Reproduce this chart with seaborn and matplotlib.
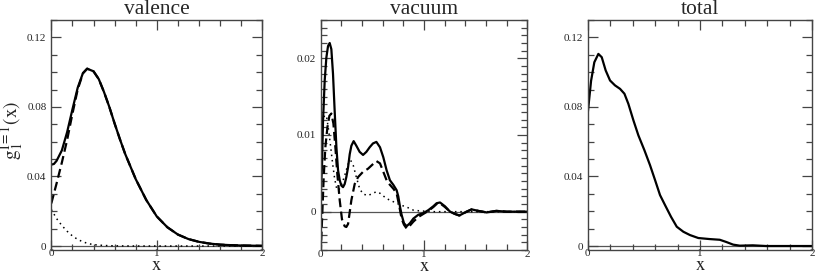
import matplotlib
matplotlib.use("Agg")
import matplotlib.pyplot as plt
from matplotlib.ticker import MultipleLocator, FixedLocator, FuncFormatter
import seaborn as sns
import pandas as pd

# ---------------- data ----------------
titles = ["valence", "vacuum", "total"]

val_solid_x = [0, 0.025, 0.05, 0.1, 0.15, 0.2, 0.25, 0.3, 0.34, 0.4, 0.45, 0.5, 0.55, 0.6, 0.65,
               0.7, 0.8, 0.9, 1.0, 1.1, 1.2, 1.3, 1.4, 1.5, 1.6, 1.7, 1.8, 1.9, 2.0]
val_solid_y = [0.0468, 0.0472, 0.0490, 0.0550, 0.0655, 0.0785, 0.0910, 0.0995, 0.1020, 0.1005,
               0.0960, 0.0885, 0.0800, 0.0705, 0.0615, 0.0530, 0.0385, 0.0265, 0.0170, 0.0108,
               0.0066, 0.0040, 0.0024, 0.0014, 0.0008, 0.0005, 0.0003, 0.0002, 0.0001]
val_dash_x = [0, 0.05, 0.1, 0.15, 0.2, 0.25, 0.3, 0.34, 0.4, 0.45, 0.5, 0.55, 0.6, 0.65,
              0.7, 0.8, 0.9, 1.0, 1.1, 1.2, 1.3, 1.4, 1.5, 1.6, 1.7, 1.8, 1.9, 2.0]
val_dash_y = [0.0245, 0.0360, 0.0480, 0.0610, 0.0760, 0.0900, 0.0993, 0.1020, 0.1005,
              0.0960, 0.0885, 0.0800, 0.0705, 0.0615, 0.0530, 0.0385, 0.0265, 0.0170, 0.0108,
              0.0066, 0.0040, 0.0024, 0.0014, 0.0008, 0.0005, 0.0003, 0.0002, 0.0001]
val_dot_x = [0, 0.05, 0.1, 0.15, 0.2, 0.25, 0.3, 0.35, 0.4, 0.5, 0.6, 0.8, 1.0, 1.5, 2.0]
val_dot_y = [0.0210, 0.0158, 0.0118, 0.0085, 0.0058, 0.0038, 0.0024, 0.0014, 0.0008,
             0.0003, 0.0001, 0.0, 0.0, 0.0, 0.0]

vac_solid_x = [0, 0.013, 0.0226, 0.0387, 0.0548, 0.071, 0.087, 0.103, 0.119, 0.135,
               0.152, 0.168, 0.184, 0.2, 0.216, 0.232, 0.248, 0.265, 0.281, 0.297,
               0.319, 0.345, 0.377, 0.41, 0.442, 0.474, 0.506, 0.539, 0.574, 0.606,
               0.638, 0.67, 0.703, 0.735, 0.751, 0.767, 0.783, 0.806, 0.832, 0.864,
               0.897, 0.945, 0.993, 1.042, 1.09, 1.122, 1.155, 1.203, 1.252, 1.3,
               1.342, 1.413, 1.461, 1.526, 1.606, 1.70, 1.8, 1.9, 2.0]
vac_solid_y = [0.0019, 0.0062, 0.0119, 0.0171, 0.0201, 0.0216, 0.0220, 0.0212, 0.0180, 0.0132,
               0.0084, 0.0054, 0.0041, 0.0034, 0.0032, 0.0036, 0.0045, 0.0058, 0.0075, 0.0086,
               0.0092, 0.0086, 0.0078, 0.0074, 0.0078, 0.0084, 0.0089, 0.0091, 0.0084, 0.0071,
               0.0054, 0.0041, 0.0035, 0.0028, 0.0020, 0.0007, -0.0004, -0.0015, -0.0019, -0.0015,
               -0.0009, -0.0004, -0.0002, 0.0002, 0.0007, 0.0011, 0.0012, 0.0007, 0.0, -0.0003,
               -0.0005, 0.0, 0.0003, 0.0001, -0.0001, 0.0001, 0.0, 0.0, 0.0]
vac_dash_x = [0, 0.013, 0.029, 0.045, 0.065, 0.084, 0.103, 0.123, 0.142, 0.161,
              0.184, 0.206, 0.232, 0.248, 0.265, 0.297, 0.329, 0.361, 0.41, 0.458,
              0.506, 0.539, 0.574, 0.606, 0.638, 0.67, 0.703, 0.735, 0.761, 0.783,
              0.806, 0.832, 0.858, 0.897, 0.945, 0.993, 1.042, 1.09, 1.122, 1.155,
              1.203, 1.252, 1.3, 1.342, 1.413, 1.461, 1.526, 1.606, 1.70, 1.8,
              1.9, 2.0]
vac_dash_y = [-0.0055, -0.0011, 0.0045, 0.0084, 0.0110, 0.0125, 0.0128, 0.0115, 0.0084, 0.0049,
              0.0015, -0.0010, -0.0019, -0.0020, -0.0016, 0.0015, 0.0036, 0.0045, 0.0052, 0.0056,
              0.0062, 0.0066, 0.0063, 0.0052, 0.0041, 0.0035, 0.0030, 0.0024, 0.0007, -0.0009,
              -0.0017, -0.0022, -0.0019, -0.0013, -0.0007, -0.0003, 0.0001, 0.0006, 0.0010, 0.0011,
              0.0006, 0.0, -0.0003, -0.0005, 0.0, 0.0003, 0.0001, -0.0001, 0.0001, 0.0,
              0.0, 0.0]
vac_dot_x = [0, 0.0097, 0.019, 0.039, 0.058, 0.077, 0.097, 0.116, 0.135, 0.155,
             0.174, 0.2, 0.232, 0.265, 0.29, 0.316, 0.345, 0.377, 0.41, 0.458,
             0.506, 0.539, 0.574, 0.638, 0.703, 0.767, 0.832, 0.897, 0.96, 1.1,
             1.3, 1.5, 1.7, 2.0]
vac_dot_y = [0.0054, 0.0089, 0.0119, 0.0126, 0.0123, 0.0106, 0.0084, 0.0062, 0.0043, 0.0030,
             0.0028, 0.0034, 0.0047, 0.0062, 0.0067, 0.0060, 0.0045, 0.0030, 0.0023, 0.0021,
             0.0024, 0.0026, 0.0024, 0.0017, 0.0013, 0.0009, 0.0006, 0.0002, 0.0001, 0.0,
             0.0, 0.0, 0.0, 0.0]

tot_x = [0, 0.03, 0.059, 0.095, 0.125, 0.16, 0.199, 0.243, 0.288, 0.327, 0.362, 0.407, 0.451,
         0.505, 0.555, 0.6, 0.644, 0.689, 0.742, 0.793, 0.852, 0.911, 0.985, 1.086, 1.176,
         1.235, 1.295, 1.354, 1.47, 1.59, 1.8, 2.0]
tot_y = [0.0761, 0.0950, 0.1057, 0.1105, 0.1086, 0.1010, 0.0952, 0.0924, 0.0904, 0.0876,
         0.0818, 0.0723, 0.0637, 0.0551, 0.0465, 0.0379, 0.0293, 0.0235, 0.0168, 0.0111,
         0.0082, 0.0063, 0.0046, 0.0040, 0.0036, 0.0023, 0.0008, 0.0002, 0.0004, 0.0,
         0.0, 0.0]

# ---------------- style ----------------
sns.set_style("ticks")
plt.rcParams["font.family"] = ["Liberation Serif", "DejaVu Serif"]
plt.rcParams["mathtext.fontset"] = "stix"

W, H = 817, 273
fig = plt.figure(figsize=(W / 100, H / 100), dpi=100)

def box(l, r, t, b):
    return [l / W, 1 - b / H, (r - l) / W, (b - t) / H]

axes = [fig.add_axes(box(51.3, 262.3, 20, 249.5)),
        fig.add_axes(box(320.7, 527.3, 20, 250)),
        fig.add_axes(box(587.7, 812.3, 20, 249.5))]

lw = 1.6
def draw(ax, xs, ys, ls, width=lw):
    df = pd.DataFrame({"x": xs, "y": ys})
    sns.lineplot(data=df, x="x", y="y", ax=ax, color="black", lw=width,
                 linestyle=ls, estimator=None, sort=False)

draw(axes[0], val_solid_x, val_solid_y, "-")
draw(axes[0], val_dash_x, val_dash_y, (0, (4, 2)))
draw(axes[0], val_dot_x, val_dot_y, (0, (1, 2.5)), 1.1)
draw(axes[1], vac_solid_x, vac_solid_y, "-")
draw(axes[1], vac_dash_x, vac_dash_y, (0, (4, 2)))
draw(axes[1], vac_dot_x, vac_dot_y, (0, (1, 2.5)), 1.1)
draw(axes[2], tot_x, tot_y, "-")

ylims = [(-0.002, 0.13), (-0.005, 0.025), (-0.002, 0.13)]
majors = [[0, 0.04, 0.08, 0.12], [0, 0.01, 0.02], [0, 0.04, 0.08, 0.12]]
minors = [0.01, 0.001, 0.01]

def fmt(v, pos):
    if abs(v) < 1e-12:
        return "0"
    return f"{v:.2f}"

for i, ax in enumerate(axes):
    ax.set_xlim(0, 2)
    ax.set_ylim(*ylims[i])
    ax.axhline(0, color="#555555", lw=0.9, zorder=0)
    ax.xaxis.set_major_locator(FixedLocator([0, 1, 2]))
    ax.xaxis.set_minor_locator(MultipleLocator(0.2))
    ax.yaxis.set_major_locator(FixedLocator(majors[i]))
    ax.yaxis.set_minor_locator(MultipleLocator(minors[i]))
    ax.xaxis.set_major_formatter(FuncFormatter(lambda v, p: f"{int(round(v))}"))
    ax.yaxis.set_major_formatter(FuncFormatter(fmt))
    ax.tick_params(which="both", direction="in", top=True, right=True,
                   labelsize=8, color="#444444", width=0.9)
    ax.tick_params(which="major", length=7)
    ax.tick_params(which="minor", length=4.5)
    ax.tick_params(axis="x", which="major", pad=0)
    ax.tick_params(axis="y", which="major", pad=3.5)
    for sp in ax.spines.values():
        sp.set_visible(True)
        sp.set_color("#444444")
        sp.set_linewidth(1.0)
    ax.set_title(titles[i], fontsize=15.5, pad=4)
    ax.set_xlabel(r"$\mathrm{x}$", fontsize=13.5)
    ax.xaxis.label.set_va("baseline")
    ax.xaxis.set_label_coords(0.5, -(270 - 249.5) / 229.5)
    ax.set_ylabel("")

axes[0].set_ylabel(r"$\mathrm{g}_{\mathrm{1}}^{\mathrm{I=1}}\mathrm{(x)}$", fontsize=14)
axes[0].yaxis.set_label_coords(-0.118, 0.52)

fig.savefig("out.png", dpi=100)
